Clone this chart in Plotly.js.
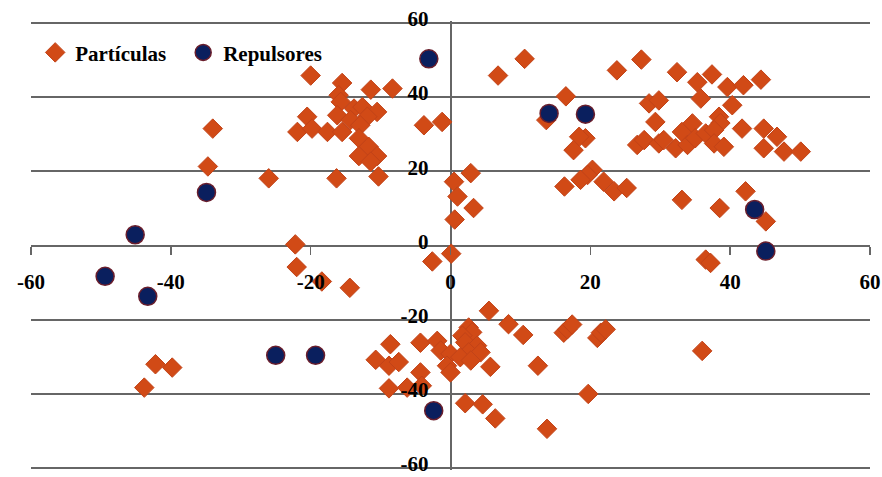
<!DOCTYPE html>
<html>
<head>
<meta charset="utf-8">
<script src="https://cdn.plot.ly/plotly-3.0.1.min.js"></script>
<style>
  html, body { margin: 0; padding: 0; background: #ffffff; }
  #chart { width: 882px; height: 477px; }
</style>
</head>
<body>
<div id="chart"></div>
<script>
// Series: Partículas (diamonds)
const particulasX = [
  -34, -34.7, -26, -16.3, -10.3, -20, -15.5, -11.4, -8.3, -16, -15.7, -13.8, -12.6, -10.5, -11.9,
  -20.5, -16.2, -14.3, -21.9, -19.8, -17.6, -15.5, -12.9, -13.1, -11.7, -13.1, -10.5, -11.4, -3.8, -1.2, -22.2,
  6.8, 10.6, 23.8, 27.3, 16.5, 13.7, 19.3, 18.4, 17.6, 20.3, 19.6, 18.6, 21.9, 23.4, 25.2, 16.3,
  0.5, 2.9, 1.0, 3.3, 0.6, 32.4, 37.4, 35.3, 39.6, 41.9, 44.4, 35.8, 28.4, 29.8, 40.3,
  29.3, 38.4, 38.6, 41.7, 44.8, 46.7, 44.8, 47.7, 50.1, 26.7, 27.7, 29.8, 30.5, 32.2, 33.1,
  34.6, 33.9, 35, 36.5, 37.7, 37.7, 39.1, 33.1, 38.5, 42.2, 45.1,
  0.1, -2.6, 36.5, 37.2, 36,
  -22, -18.4, -14.4, -42.2, -39.8, -43.8, -10.7, -8.6, -8.8, -7.4, -8.8, -4.3, -1.9, -1.4, -4.3,
  -6.2, -4.1, 0, -0.5, 0,
  5.5, 8.3, 10.4, 2.6, 3.1, 1.7, 2.1, 3.8, 2.6, 4.3, 1.4, 2.9, 5.7, 12.5, 16.2, 16.7, 17.4,
  21, 21.5, 22.2, 19.7, 13.8, 2.1, 4.6, 6.4
];
const particulasY = [
  31.5, 21.3, 18.1, 18.1, 18.6, 45.8, 43.8, 42, 42.3, 40.5, 38.7, 36.9, 37.3, 36, 34.7,
  34.7, 35.1, 33.8, 30.6, 31.5, 30.6, 30.6, 32.4, 28.9, 26.6, 24.1, 24.1, 22.6, 32.4, 33.3, 0.3,
  45.8, 50.3, 47.2, 50.1, 40.2, 33.8, 28.9, 29.3, 25.7, 20.4, 19.0, 17.7, 17.2, 14.6, 15.5, 15.9,
  17.2, 19.5, 13.2, 10.1, 7.0, 46.7, 46.1, 44, 42.7, 43.2, 44.7, 39.6, 38.3, 39.1, 37.8,
  33.3, 34.7, 33, 31.5, 31.5, 29.3, 26.2, 25.3, 25.3, 27.1, 28.4, 27.5, 28.4, 26.2, 30.6,
  32.9, 27.1, 28.9, 30.2, 31.1, 27.5, 26.6, 12.3, 10.1, 14.6, 6.5,
  -2.2, -4.3, -3.8, -4.7, -28.4,
  -5.8, -9.7, -11.4, -32, -32.9, -38.3, -30.8, -26.6, -32.4, -31.4, -38.5, -26.2, -25.7, -28.3, -34.2,
  -38.3, -37.8, -29.2, -32.4, -34.2,
  -17.6, -21.2, -24.1, -22.1, -23.4, -24.3, -26.1, -27, -28.8, -28.8, -30.1, -31, -32.7, -32.4, -23.5, -22.6, -21.3,
  -24.9, -23.5, -22.6, -40, -49.4, -42.5, -42.8, -46.6
];

// Series: Repulsores (circles)
const repulsoresX = [-3.1, 14.1, 19.3, -34.9, -45.1, 43.5, 45.1, -49.4, -43.3, -25, -19.3, -2.4];
const repulsoresY = [50.3, 35.6, 35.4, 14.3, 2.9, 9.7, -1.5, -8.3, -13.7, -29.6, -29.6, -44.5];

// Tick values / labels
const tickValues = [-60, -40, -20, 0, 20, 40, 60];
const tickLabels = ['-60', '-40', '-20', '0', '20', '40', '60'];

const seriesNames = ['Partículas', 'Repulsores'];

const labelFont = { family: 'Liberation Serif, Times New Roman, serif', size: 21, color: '#000000', weight: 'bold' };
const gridColor = '#666666';

const traces = [
  {
    type: 'scatter', mode: 'markers', name: seriesNames[0],
    x: particulasX, y: particulasY,
    marker: { symbol: 'diamond', size: 15, color: '#D14A16', line: { color: '#C24318', width: 1 } },
    cliponaxis: false
  },
  {
    type: 'scatter', mode: 'markers', name: seriesNames[1],
    x: repulsoresX, y: repulsoresY,
    marker: { symbol: 'circle', size: 18, color: '#0A1F5E', line: { color: '#6A1E2C', width: 1.5 } },
    cliponaxis: false
  }
];

const layout = {
  width: 882, height: 477,
  margin: { l: 31, r: 12, t: 21, b: 7, pad: 0 },
  paper_bgcolor: '#ffffff', plot_bgcolor: '#ffffff',
  font: labelFont,
  showlegend: true,
  legend: {
    orientation: 'h', x: 0.005, y: 0.975, xanchor: 'left', yanchor: 'top',
    bgcolor: 'rgba(0,0,0,0)', font: labelFont, itemwidth: 30, entrywidth: 103,
    tracegroupgap: 0
  },
  xaxis: {
    range: [-60, 60], tickmode: 'array', tickvals: tickValues, ticktext: tickLabels,
    anchor: 'free', position: 0.5, side: 'bottom',
    showgrid: false, zeroline: true, zerolinecolor: gridColor, zerolinewidth: 2,
    showline: false, ticks: 'outside', ticklen: 8, tickwidth: 1.5, tickcolor: gridColor,
    ticklabelstandoff: 9, ticklabeloverflow: 'allow', tickfont: labelFont, fixedrange: true
  },
  yaxis: {
    range: [-60.5, 60.5], tickmode: 'array', tickvals: tickValues, ticktext: tickLabels,
    anchor: 'free', position: 0.5, side: 'left',
    showgrid: true, gridcolor: gridColor, gridwidth: 2,
    zeroline: true, zerolinecolor: gridColor, zerolinewidth: 2,
    showline: false, ticks: '', ticklabelstandoff: 22, ticklabelshift: -4, ticklabeloverflow: 'allow',
    tickfont: labelFont, fixedrange: true
  }
};

Plotly.newPlot('chart', traces, layout, { displayModeBar: false, staticPlot: true });
</script>
</body>
</html>
